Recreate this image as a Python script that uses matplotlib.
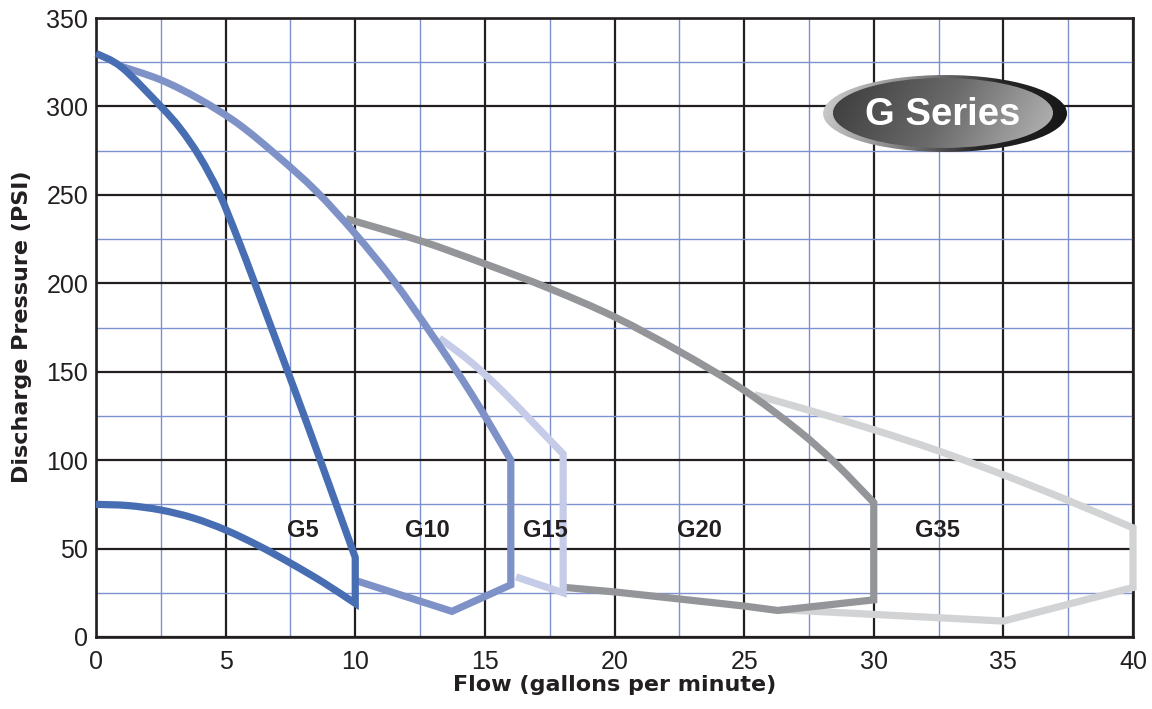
import numpy as np
import matplotlib
matplotlib.use("Agg")
import matplotlib.pyplot as plt
from matplotlib.patches import Ellipse, PathPatch
from matplotlib.path import Path
from matplotlib.colors import LinearSegmentedColormap
from matplotlib.ticker import MultipleLocator

plt.rcParams['font.family'] = ['Liberation Sans', 'DejaVu Sans']

# ---- data (flow gpm, pressure psi) ----
g5_flow = [0, 1, 2.5, 3.25, 4, 4.75, 5.45, 6.1, 6.75, 7.4, 8.03, 8.65, 10, 10,
           8.75, 7.5, 6.25, 5, 3.75, 2.5, 1.25, 0]
g5_psi = [330, 322, 300, 287.5, 271.5, 251, 226, 201, 175.5, 150, 125, 100, 45, 19,
          31, 41.8, 51.8, 60.5, 67.3, 71.8, 74.3, 75]

g10_flow = [0.9, 2.5, 4, 5.5, 7, 8.5, 10, 11.5, 13, 14.5, 16, 16, 13.73, 10]
g10_psi = [323, 315, 304, 290, 272, 252, 228, 201, 170, 137, 100, 29.5, 14.5, 32]

g15_flow = [13.25, 14.5, 15.75, 17, 18.02, 18.02, 16.2]
g15_psi = [169, 155, 138, 119, 103.5, 25, 34]

g20_flow = [9.65, 12.48, 15, 17.5, 20, 22.5, 25, 27.07, 28.5, 30, 30,
            26.3, 25, 22.5, 20, 18.1]
g20_psi = [236.5, 224.2, 211, 197, 181, 161.5, 139.5, 117, 98.5, 76, 21,
           15, 17.5, 21.5, 25.5, 28]

g35_flow = [25.4, 27.5, 30, 32.5, 35, 37.5, 40, 40, 35, 26.4]
g35_psi = [137, 128.2, 117.2, 105.2, 91.7, 77.2, 61.7, 28, 9, 15.5]

series_names = ['G35', 'G20', 'G15', 'G10', 'G5']
series_flow = [g35_flow, g20_flow, g15_flow, g10_flow, g5_flow]
series_psi = [g35_psi, g20_psi, g15_psi, g10_psi, g5_psi]
series_colors = ['#d1d3d4', '#939598', '#c6cce8', '#7f92c8', '#476db3']
# index ranges (start, end) drawn as smooth curves; the rest are straight
series_smooth = [[(0, 6)], [(0, 9)], [(0, 4)], [(0, 10)], [(0, 12), (13, 21)]]

label_names = ['G5', 'G10', 'G15', 'G20', 'G35']
label_x = [7.98, 12.79, 17.32, 23.28, 32.45]
label_y = [56.5, 56.5, 56.5, 56.5, 56.5]

x_ticks = [0, 5, 10, 15, 20, 25, 30, 35, 40]
y_ticks = [0, 50, 100, 150, 200, 250, 300, 350]


def build_path(xs, ys, smooth_runs):
    pts = np.column_stack([xs, ys]).astype(float)
    n = len(pts)
    smooth_seg = set()
    for a, b in smooth_runs:
        for i in range(a, b):
            smooth_seg.add(i)
    verts = [pts[0]]
    codes = [Path.MOVETO]
    for i in range(n - 1):
        if i in smooth_seg:
            run = [r for r in smooth_runs if r[0] <= i < r[1]][0]
            p0 = pts[i - 1] if i - 1 >= run[0] else pts[i]
            p3 = pts[i + 2] if i + 2 <= run[1] else pts[i + 1]
            c1 = pts[i] + (pts[i + 1] - p0) / 6.0
            c2 = pts[i + 1] - (p3 - pts[i]) / 6.0
            verts += [c1, c2, pts[i + 1]]
            codes += [Path.CURVE4] * 3
        else:
            verts.append(pts[i + 1])
            codes.append(Path.LINETO)
    return Path(verts, codes)


# ---- figure ----
fig = plt.figure(figsize=(11.52, 7.09), dpi=100)
ax = fig.add_axes([96 / 1152, 72 / 709, 1037 / 1152, 619 / 709])

dark = '#231f20'
ax.set_axisbelow(True)
ax.set_xticks(x_ticks)
ax.set_yticks(y_ticks)
ax.xaxis.set_minor_locator(MultipleLocator(2.5))
ax.yaxis.set_minor_locator(MultipleLocator(25))
ax.grid(which='minor', color='#7d91cf', linewidth=1.0)
ax.grid(which='major', color=dark, linewidth=1.6)
ax.tick_params(which='both', length=0, labelsize=18, labelcolor=dark)
ax.tick_params(axis='x', pad=9.5)
ax.tick_params(axis='y', pad=5.5)
for s in ax.spines.values():
    s.set_color(dark)
    s.set_linewidth(1.9)

for i, (fx, py, c, sm) in enumerate(zip(series_flow, series_psi, series_colors, series_smooth)):
    patch = PathPatch(build_path(fx, py, sm), facecolor='none', edgecolor=c,
                      linewidth=5.2, joinstyle='miter', capstyle='butt',
                      zorder=3 + 0.1 * i, clip_on=False)
    ax.add_patch(patch)

for name, lx, ly in zip(label_names, label_x, label_y):
    ax.text(lx, ly, name, ha='center', va='baseline', fontsize=17,
            fontweight='bold', color=dark, zorder=8)

# ---- "G Series" badge ----
ocx, ocy, ow, oh = 32.75, 296.0, 9.41, 43.5
icx, icy, iw, ih = 32.67, 296.3, 8.49, 39.6
outer = Ellipse((ocx, ocy), ow, oh, facecolor='none', edgecolor='none')
inner = Ellipse((icx, icy), iw, ih, facecolor='none', edgecolor='none')
ax.add_patch(outer)
ax.add_patch(inner)
gx = np.linspace(0, 1, 300)
gy = np.linspace(0, 1, 100)
GX, GY = np.meshgrid(gx, gy)
cmap_o = LinearSegmentedColormap.from_list('o', ['#d2d2d2', '#8c8c8c', '#262626', '#151515'])
cmap_i = LinearSegmentedColormap.from_list('i', ['#3a3a3a', '#6a6a6a', '#b8b8b8'])
im_o = ax.imshow(GX * 0.9 + GY * 0.1, extent=[ocx - ow / 2, ocx + ow / 2, ocy - oh / 2, ocy + oh / 2],
                 cmap=cmap_o, aspect='auto', zorder=10, interpolation='bilinear')
im_o.set_clip_path(outer)
im_i = ax.imshow(GX * 0.85 + GY * 0.15, extent=[icx - iw / 2, icx + iw / 2, icy - ih / 2, icy + ih / 2],
                 cmap=cmap_i, aspect='auto', zorder=11, interpolation='bilinear')
im_i.set_clip_path(inner)
ax.text(icx, 289.5, 'G Series', ha='center', va='baseline', fontsize=27.5,
        fontweight='bold', color='white', zorder=12)

ax.set_xlim(0, 40)
ax.set_ylim(0, 350)

ax.set_xlabel('Flow (gallons per minute)', fontsize=16, fontweight='bold',
              family=['DejaVu Sans'], color=dark, va='baseline')
ax.xaxis.set_label_coords(0.5, -0.0865)
ax.set_ylabel('Discharge Pressure (PSI)', fontsize=16, fontweight='bold',
              family=['DejaVu Sans'], color=dark, va='baseline', ha='center',
              rotation=90, rotation_mode='anchor')
ax.yaxis.set_label_coords(-0.066, 0.5016)

fig.savefig('out.png', dpi=100)
